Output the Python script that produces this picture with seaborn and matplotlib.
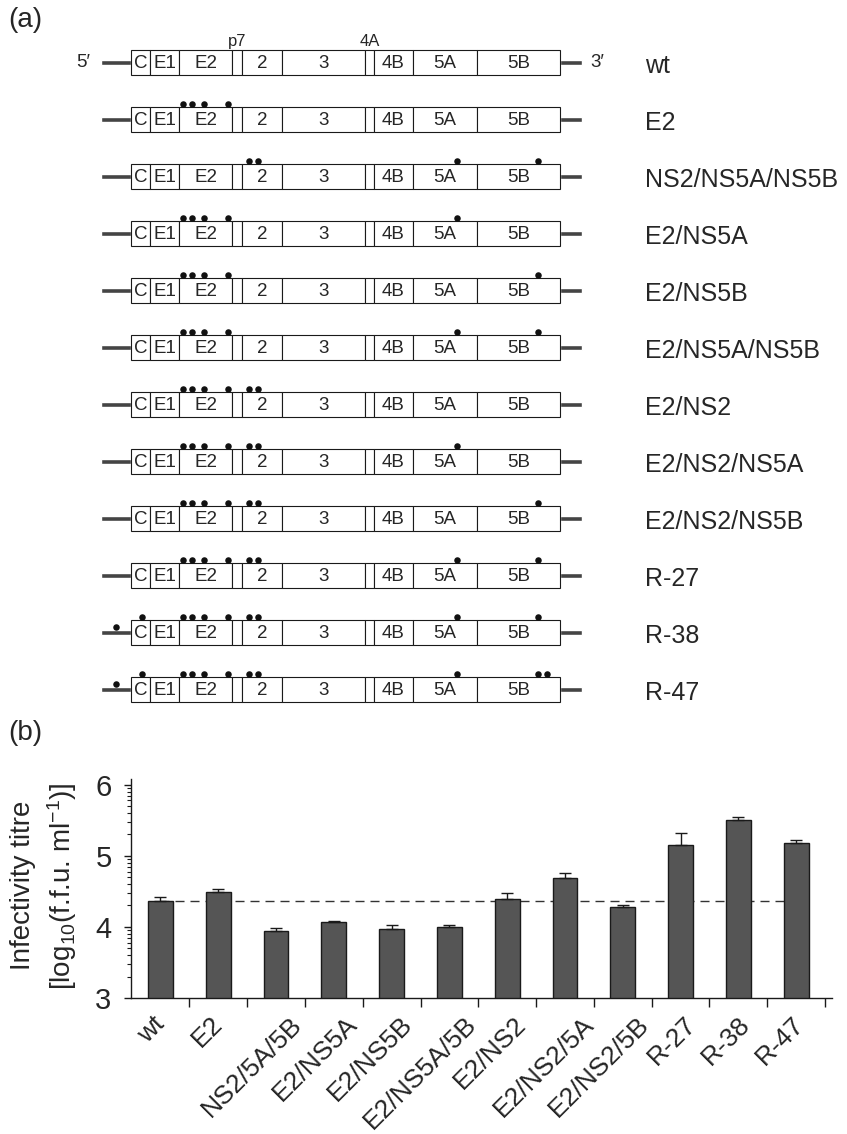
import numpy as np
import matplotlib
matplotlib.use('Agg')
import matplotlib.pyplot as plt
import matplotlib.transforms as mtransforms
from matplotlib.ticker import FixedLocator
import seaborn as sns

sns.set_style('ticks')
plt.rcParams['font.family'] = ['Liberation Sans', 'DejaVu Sans']
plt.rcParams['mathtext.fontset'] = 'custom'
plt.rcParams['mathtext.rm'] = 'Liberation Sans'
plt.rcParams['mathtext.it'] = 'Liberation Sans:italic'

### (a) genome map data
segments = ['C', 'E1', 'E2', 'p7', '2', '3', '4A', '4B', '5A', '5B']
seg_widths = [19, 29, 53, 10, 40, 83, 9, 39, 64, 83]
utr5_len = 30
utr3_len = 22

constructs = ['wt', 'E2', 'NS2/NS5A/NS5B', 'E2/NS5A', 'E2/NS5B', 'E2/NS5A/NS5B',
              'E2/NS2', 'E2/NS2/NS5A', 'E2/NS2/NS5B', 'R-27', 'R-38', 'R-47']

# mutation sites, position along the drawn genome
site_utr = [-15]
site_c = [11]
site_e2 = [52, 61, 73, 97]
site_ns2 = [118, 127]
site_ns5a = [326]
site_ns5b = [407]
site_ns5b_r47 = [407, 416]

construct_sites = [
  [],
  site_e2,
  site_ns2 + site_ns5a + site_ns5b,
  site_e2 + site_ns5a,
  site_e2 + site_ns5b,
  site_e2 + site_ns5a + site_ns5b,
  site_e2 + site_ns2,
  site_e2 + site_ns2 + site_ns5a,
  site_e2 + site_ns2 + site_ns5b,
  site_e2 + site_ns2 + site_ns5a + site_ns5b,
  site_c + site_e2 + site_ns2 + site_ns5a + site_ns5b,
  site_c + site_e2 + site_ns2 + site_ns5a + site_ns5b_r47,
]
construct_utr_sites = [[]] * 10 + [site_utr, site_utr]

### (b) infectivity data
bar_labels = ['wt', 'E2', 'NS2/5A/5B', 'E2/NS5A', 'E2/NS5B', 'E2/NS5A/5B',
              'E2/NS2', 'E2/NS2/5A', 'E2/NS2/5B', 'R-27', 'R-38', 'R-47']
titre = [4.37, 4.49, 3.94, 4.07, 3.97, 4.00, 4.39, 4.69, 4.28, 5.15, 5.50, 5.18]
titre_err = [0.05, 0.04, 0.05, 0.01, 0.05, 0.02, 0.09, 0.07, 0.03, 0.17, 0.045, 0.045]

# nudge (px) of rotated tick labels
label_nudge = [-8, -8, 14, 11, 8, 15, 7, 17, 14, 3, -1, -4]

W, H = 847, 1134
EDGE = '#1a1a1a'
BAR = '#555555'
TAIL = '#444444'


def px_box(x0, y0, x1, y1):
  return [x0 / W, 1 - y1 / H, (x1 - x0) / W, (y1 - y0) / H]


fig = plt.figure(figsize=(W / 100, H / 100), dpi=100)

# ---------- (a) ----------
ax_map = fig.add_axes(px_box(0, 34, W, 718))
ax_map.set_xlim(-131, W - 131)
ax_map.set_ylim(len(constructs) - 0.5, -0.5)
ax_map.axis('off')

rows = np.arange(len(constructs))
starts = np.concatenate([[0], np.cumsum(seg_widths)[:-1]])
total = sum(seg_widths)
box_h = 0.44

ax_map.barh(rows, utr5_len, left=-utr5_len, height=0.105, color=TAIL, zorder=1)
ax_map.barh(rows, utr3_len, left=total, height=0.105, color=TAIL, zorder=1)

for name, st, w in zip(segments, starts, seg_widths):
  ax_map.barh(rows, w, left=st, height=box_h, facecolor='white',
              edgecolor=EDGE, linewidth=0.8, zorder=2)
  if name in ('p7', '4A'):
    ax_map.text(st + w / 2, -box_h / 2 - 0.02, name, ha='center', va='bottom',
                fontsize=12)
    continue
  for r in rows:
    ax_map.text(st + w / 2, r + 0.01, name, ha='center', va='center',
                fontsize=13.5, zorder=3)

ax_map.text(-utr5_len - 11, 0, '5\u2032', ha='right', va='center', fontsize=13.5)
ax_map.text(total + utr3_len + 8, 0, '3\u2032', ha='left', va='center', fontsize=13.5)

for r, name in enumerate(constructs):
  ax_map.text(514, r + 0.06, name, ha='left', va='center', fontsize=18)
  sites = construct_sites[r]
  if sites:
    ax_map.scatter(sites, [r - 0.265] * len(sites), s=22, color='#111111',
                   linewidths=0, zorder=5)
  utr = construct_utr_sites[r]
  if utr:
    ax_map.scatter(utr, [r - 0.105] * len(utr), s=22, color='#111111',
                   linewidths=0, zorder=5)

# ---------- (b) ----------
ax = fig.add_axes(px_box(131, 779, 832, 998))
x = np.arange(len(bar_labels))
ax.plot([0, len(bar_labels) - 1], [titre[0], titre[0]], color='#333333', lw=1,
        ls=(0, (6.5, 4.3)), zorder=0.5)
sns.barplot(x=bar_labels, y=titre, color=BAR, saturation=1, width=0.43,
            edgecolor=EDGE, linewidth=1, errorbar=None, ax=ax, zorder=2)
ax.errorbar(x, titre, yerr=[np.zeros(len(x)), titre_err], fmt='none',
            ecolor=EDGE, elinewidth=1, capsize=4, capthick=1, zorder=3)

ax.set_xlim(-0.51, 11.62)
ax.set_ylim(3, 6.08)
ax.set_yticks([3, 4, 5, 6])
ax.yaxis.set_minor_locator(FixedLocator(
  [d + np.log10(k) for d in (3, 4, 5) for k in range(2, 10)]))
ax.tick_params(axis='y', which='major', length=5, width=1, pad=9,
               labelsize=21, color=EDGE)
ax.tick_params(axis='y', which='minor', length=3, width=0.8, color=EDGE)
ax.set_xticks(np.arange(0.5, len(bar_labels), 1.0))
ax.set_xticklabels([])
ax.tick_params(axis='x', which='major', length=6.5, width=1, color=EDGE)
ax.set_xlabel('')
ax.set_ylabel('')
sns.despine(ax=ax)
for sp in ('left', 'bottom'):
  ax.spines[sp].set_linewidth(1)
  ax.spines[sp].set_color(EDGE)

for i, (lab, dx) in enumerate(zip(bar_labels, label_nudge)):
  tr = mtransforms.offset_copy(ax.get_xaxis_transform(), fig=fig, x=dx, y=-14,
                               units='dots')
  ax.text(i, 0, lab, transform=tr, rotation=45, rotation_mode='anchor',
          ha='right', va='top', fontsize=19)

fig.text(23 / W, 1 - 885 / H, 'Infectivity titre', rotation=90, ha='center',
         va='center', fontsize=20)
fig.text(62 / W, 1 - 886 / H, '[log$_{10}$(f.f.u. ml$^{-1}$)]', rotation=90,
         ha='center', va='center', fontsize=20)

fig.text(8 / W, 1 - 20 / H, '(a)', ha='left', va='center', fontsize=20)
fig.text(8 / W, 1 - 733 / H, '(b)', ha='left', va='center', fontsize=20)

fig.savefig('out.png', dpi=100)
